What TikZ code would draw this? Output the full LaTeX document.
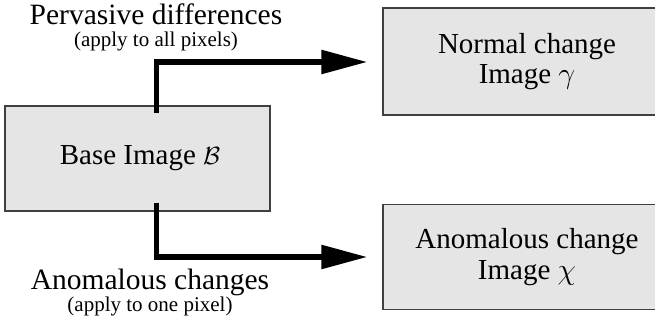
\documentclass[tikz,border=0pt]{standalone}
\usepackage{fontspec}
\newfontfamily\timesfont{Liberation Serif}
\usetikzlibrary{arrows.meta,calc}
\begin{document}
\begin{tikzpicture}[x=1pt,y=-1pt,
  imgbox/.style={draw=black!75,line width=1.3pt,fill=black!10,inner sep=0pt,
    align=center,font=\timesfont\fontsize{29}{30.5}\selectfont},
  flow/.style={line width=5.5pt,-{Triangle[length=46pt,width=23pt]}},
  caption/.style={font=\timesfont\fontsize{29.5}{31}\selectfont,inner sep=0pt,anchor=base},
  subcaption/.style={font=\timesfont\fontsize{21}{23}\selectfont,inner sep=0pt,anchor=base}]
\useasboundingbox (0,0) rectangle (655,320);
\clip (0,0) rectangle (655,320);

% image boxes (the right-hand ones run past the page edge)
\node[imgbox,minimum width=265pt,minimum height=105pt] (base) at (137.5,158.5)
  {\hspace*{5pt}Base Image $\mathcal{B}$};
\node[imgbox,minimum width=288pt,minimum height=107pt] (normal) at (527,61.5)
  {Normal change\\Image \scalebox{1.2}{$\gamma$}};
\node[imgbox,minimum width=288pt,minimum height=105pt] (anom) at (527,257)
  {Anomalous change\\Image \scalebox{1.2}{$\chi$}};

% arrow captions
\node[caption] (pervasive) at (156,25) {Pervasive differences};
\node[subcaption] (pervasivesub) at (156,47) {(apply to all pixels)};
\node[caption] (anomalous) at (150,289) {Anomalous changes};
\node[subcaption] (anomaloussub) at (150,311) {(apply to one pixel)};

% connectors
\coordinate (topstart) at ($(base.north west)+(152pt,-8pt)$);
\coordinate (botstart) at ($(base.south west)+(152pt,9pt)$);
\draw[flow] (topstart) |- ($(normal.west)+(-15pt,-0.5pt)$);
\draw[flow] (botstart) |- ($(anom.west)+(-15pt,0pt)$);
\end{tikzpicture}
\end{document}
